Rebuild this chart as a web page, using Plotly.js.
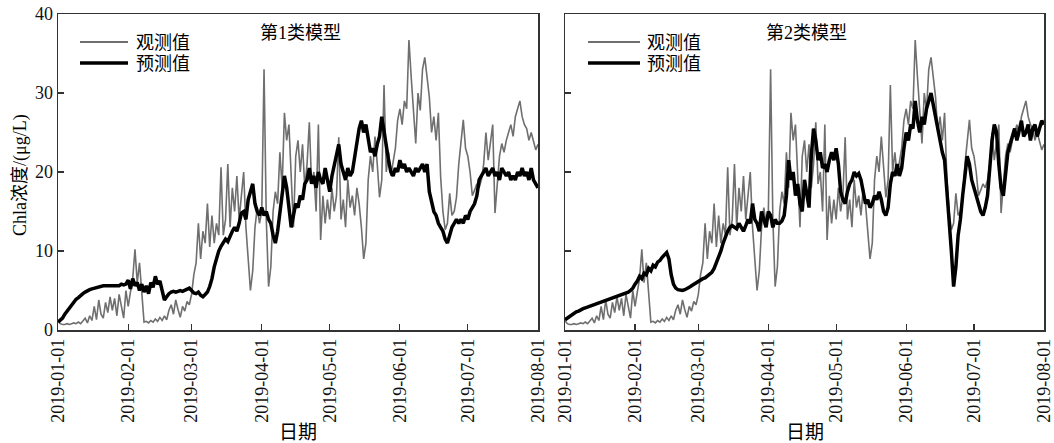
<!DOCTYPE html>
<html>
<head>
<meta charset="utf-8">
<script src="https://cdn.plot.ly/plotly-3.0.1.min.js"></script>
<style>html,body{margin:0;padding:0;background:#fff;}#chart{width:1054px;height:443px;}</style>
</head>
<body>
<div id="chart"></div>
<script>
// ---- data (daily readings, 2019-01-01 .. 2019-08-01) ----
const startDate = "2019-01-01";
const tickLabels = ["2019-01-01","2019-02-01","2019-03-01","2019-04-01","2019-05-01","2019-06-01","2019-07-01","2019-08-01"];
const yTicks = [0, 10, 20, 30, 40];

const observed = [
1.2,0.8,0.7,0.7,0.8,0.7,0.8,0.9,0.8,1.0,
0.8,1.1,1.5,0.9,1.8,1.2,3.0,1.3,3.8,2.0,
1.5,3.5,2.2,4.2,2.5,4.0,1.8,4.5,2.8,1.5,
5.0,3.0,4.8,6.5,10.2,6.0,8.5,4.5,1.0,1.1,
0.9,1.2,1.0,1.4,1.1,1.6,1.2,1.8,1.3,2.5,
3.2,2.0,3.8,2.6,1.6,3.0,2.4,3.6,3.2,4.5,
7.0,8.5,13.5,9.0,12.5,11.0,16.0,10.5,14.5,11.0,
13.5,12.0,20.6,12.0,14.0,21.0,13.0,18.0,15.0,19.5,
14.0,17.0,20.0,13.0,9.0,5.0,7.5,13.0,15.5,13.5,
15.0,33.0,14.0,5.5,8.0,15.0,17.5,16.0,22.5,18.0,
27.5,24.0,26.0,20.0,13.0,22.0,24.0,20.0,23.5,18.0,
21.0,26.3,18.5,20.0,15.0,26.0,11.4,17.0,13.5,16.5,
14.0,18.0,15.0,17.0,24.4,14.0,16.5,13.0,19.0,15.5,
17.0,14.5,18.0,16.0,13.0,9.0,11.0,19.0,22.0,20.0,
24.5,21.0,16.8,19.0,31.0,20.0,22.5,19.5,21.0,23.0,
26.5,28.0,26.0,29.0,28.0,36.7,32.0,27.0,23.6,30.0,
27.8,33.0,34.5,32.0,29.5,25.0,27.0,24.0,27.5,19.4,
15.0,12.7,13.5,17.3,14.5,15.0,16.8,21.0,24.0,26.6,
23.0,22.0,20.0,17.0,17.7,18.5,18.0,19.0,21.0,25.0,
21.5,24.0,26.0,14.8,19.0,22.0,23.6,22.5,24.0,25.0,
26.0,24.5,27.0,28.0,29.0,27.0,26.0,25.5,24.0,25.0,
24.0,22.8,23.5];

const predicted1 = [
1.0,1.2,1.5,2.0,2.4,2.8,3.2,3.5,3.9,4.1,
4.4,4.6,4.8,5.0,5.1,5.2,5.3,5.4,5.5,5.5,
5.6,5.6,5.6,5.7,5.6,5.7,5.7,5.6,5.8,5.7,
5.8,6.3,5.2,6.5,5.6,6.0,5.0,5.8,4.8,5.6,
4.6,6.0,5.4,6.8,5.8,6.2,5.0,3.8,4.2,4.6,
4.8,4.9,4.8,4.9,5.0,4.9,5.0,5.2,5.3,5.0,
4.7,4.6,4.8,4.4,4.2,4.5,4.8,5.5,6.5,8.0,
9.2,10.0,10.6,11.0,11.5,11.2,12.0,12.5,13.0,12.5,
13.5,14.8,15.0,14.0,16.5,17.5,18.5,16.0,15.0,14.5,
15.5,14.5,15.0,14.0,13.5,12.0,11.0,12.5,15.0,17.5,
19.5,18.0,15.0,13.0,14.5,16.0,15.5,17.0,16.5,18.5,
19.0,20.5,18.5,19.5,18.0,20.0,19.0,18.5,20.5,19.0,
17.5,19.5,21.0,22.5,23.5,21.0,20.0,19.0,20.5,19.5,
20.0,22.0,24.0,25.5,26.5,25.0,26.0,24.0,22.5,23.0,
22.0,23.5,24.5,27.0,25.0,23.0,21.5,20.0,19.5,20.5,
20.0,21.5,20.5,21.0,20.0,20.5,20.0,19.5,20.5,20.0,
20.5,21.0,20.0,21.0,17.5,16.0,15.0,14.5,13.5,13.0,
12.5,11.5,11.0,12.0,13.0,13.5,14.0,13.5,14.0,13.5,
14.5,14.0,15.0,15.5,16.0,17.0,19.0,19.5,20.0,20.5,
19.5,20.0,20.5,19.5,20.0,19.0,20.5,20.0,19.5,20.0,
19.0,19.5,19.0,20.0,19.5,20.5,19.5,20.0,19.0,20.5,
19.0,18.5,18.0];

const predicted2 = [
1.3,1.5,1.8,2.0,2.1,2.3,2.4,2.6,2.7,2.8,
2.9,3.0,3.2,3.3,3.4,3.5,3.6,3.7,3.8,3.9,
4.0,4.1,4.2,4.3,4.4,4.5,4.6,4.7,4.8,5.0,
5.3,5.8,6.2,6.8,6.5,7.2,7.0,7.8,7.5,8.2,
8.0,8.6,8.8,9.2,9.5,9.8,9.0,7.0,5.8,5.3,
5.1,5.0,5.0,5.1,5.2,5.4,5.6,5.8,6.0,6.2,
6.3,6.5,6.6,6.8,7.0,7.3,7.8,8.5,9.2,10.0,
11.0,11.8,12.5,13.0,13.2,13.0,12.8,13.5,13.0,12.5,
13.2,14.0,13.5,16.0,14.0,13.5,12.5,15.0,14.0,13.0,
15.0,14.5,13.0,14.0,13.5,13.5,13.8,14.5,17.0,21.5,
19.0,20.0,17.0,18.5,16.0,15.0,19.0,17.0,15.5,22.0,
25.5,24.0,21.5,22.5,20.5,21.0,20.0,21.5,22.5,21.5,
23.0,21.0,17.5,16.5,16.0,17.5,18.5,19.0,20.0,19.5,
19.8,19.0,17.5,16.0,16.5,15.5,16.0,17.0,16.5,17.5,
16.5,15.0,14.5,15.5,18.5,20.0,19.5,21.0,19.5,20.5,
23.0,25.0,24.0,26.0,25.5,29.0,26.5,25.0,27.0,26.0,
28.0,29.0,30.0,28.5,27.0,25.0,23.5,22.5,21.5,18.0,
14.0,10.0,5.5,8.0,12.0,14.0,17.0,20.0,22.0,21.0,
19.0,18.0,17.0,16.0,15.0,14.5,15.5,17.0,21.0,24.0,
26.0,25.0,21.0,18.0,17.0,19.5,22.5,23.5,24.5,25.5,
24.0,25.5,26.5,24.5,25.0,26.0,24.0,25.5,26.0,24.5,
25.5,26.5,26.0];

// ---- build daily date axis ----
const dates = [];
(function(){
  const t0 = Date.UTC(2019,0,1);
  for (let i = 0; i < observed.length; i++) {
    const d = new Date(t0 + i*86400000);
    dates.push(d.toISOString().slice(0,10));
  }
})();

const FONT = "Liberation Serif, 'Times New Roman', 'Noto Sans CJK SC', serif";
const OBS_COLOR = "#6f6f6f";
const PRED_COLOR = "#000000";

const traces = [
  {x: dates, y: observed, xaxis: "x", yaxis: "y", type: "scatter", mode: "lines", name: "观测值",
   line: {color: OBS_COLOR, width: 1.6}, showlegend: false},
  {x: dates, y: predicted1, xaxis: "x", yaxis: "y", type: "scatter", mode: "lines", name: "预测值",
   line: {color: PRED_COLOR, width: 3.5}, showlegend: false},
  {x: dates, y: observed, xaxis: "x2", yaxis: "y2", type: "scatter", mode: "lines", name: "观测值",
   line: {color: OBS_COLOR, width: 1.6}, showlegend: false},
  {x: dates, y: predicted2, xaxis: "x2", yaxis: "y2", type: "scatter", mode: "lines", name: "预测值",
   line: {color: PRED_COLOR, width: 3.5}, showlegend: false}
];

function xAxis(domain, anchor) {
  return {
    domain: domain, anchor: anchor, type: "date",
    range: [tickLabels[0], tickLabels[tickLabels.length-1]],
    tickmode: "array", tickvals: tickLabels, ticktext: tickLabels,
    tickangle: -90, ticks: "inside", ticklen: 6, tickwidth: 1.2, tickcolor: "#333",
    ticklabeloverflow: "allow",
    showline: true, linecolor: "#333", linewidth: 1.5, mirror: true,
    showgrid: false, zeroline: false,
    tickfont: {family: FONT, size: 18, color: "#111"}
  };
}
function yAxis(anchor, labels) {
  return {
    anchor: anchor, range: [0, 40], tickmode: "array", tickvals: yTicks,
    ticks: "inside", ticklen: 6, tickwidth: 1.2, tickcolor: "#333",
    showticklabels: labels,
    showline: true, linecolor: "#333", linewidth: 1.5, mirror: true,
    showgrid: false, zeroline: false,
    tickfont: {family: FONT, size: 18, color: "#111"}
  };
}

const MR = 10;
const L = 58, W = 1054 - 58 - MR, T = 14, H = 316;
const px = v => (v - L) / W;
const py = v => (T + H - v) / H;

const legendRows = [
  {label: "观测值", color: OBS_COLOR, width: 2, y: 42},
  {label: "预测值", color: PRED_COLOR, width: 3.5, y: 63}
];
const panels = [
  {lineX0: 80, lineX1: 128, textX: 134, title: "第1类模型", titleX: 300, center: 298},
  {lineX0: 588, lineX1: 640, textX: 645, title: "第2类模型", titleX: 806, center: 805}
];

const shapes = [];
const annotations = [];
panels.forEach(p => {
  legendRows.forEach(r => {
    shapes.push({type: "line", xref: "paper", yref: "paper",
      x0: px(p.lineX0), x1: px(p.lineX1), y0: py(r.y), y1: py(r.y),
      line: {color: r.color, width: r.width}});
    annotations.push({xref: "paper", yref: "paper", x: px(p.textX), y: py(r.y + 1),
      xanchor: "left", yanchor: "middle", showarrow: false, text: r.label,
      font: {family: FONT, size: 18, color: "#000"}});
  });
  annotations.push({xref: "paper", yref: "paper", x: px(p.titleX), y: py(33),
    xanchor: "center", yanchor: "middle", showarrow: false, text: p.title,
    font: {family: FONT, size: 18, color: "#000"}});
  annotations.push({xref: "paper", yref: "paper", x: px(p.center), y: py(432),
    xanchor: "center", yanchor: "middle", showarrow: false, text: "日期",
    font: {family: FONT, size: 19, color: "#000"}});
});
annotations.push({xref: "paper", yref: "paper", x: px(20), y: py(175),
  xanchor: "center", yanchor: "middle", showarrow: false, textangle: -90,
  text: "Chla浓度/(μg/L)", font: {family: FONT, size: 18, color: "#000"}});

const layout = {
  width: 1054, height: 443,
  margin: {l: 58, r: MR, t: 14, b: 113},
  paper_bgcolor: "#fff", plot_bgcolor: "#fff",
  showlegend: false,
  xaxis: xAxis([0, px(538)], "y"),
  yaxis: yAxis("x", true),
  xaxis2: xAxis([px(565), 1], "y2"),
  yaxis2: yAxis("x2", false),
  shapes: shapes,
  annotations: annotations
};

Plotly.newPlot("chart", traces, layout, {displayModeBar: false, staticPlot: true});
</script>
</body>
</html>
